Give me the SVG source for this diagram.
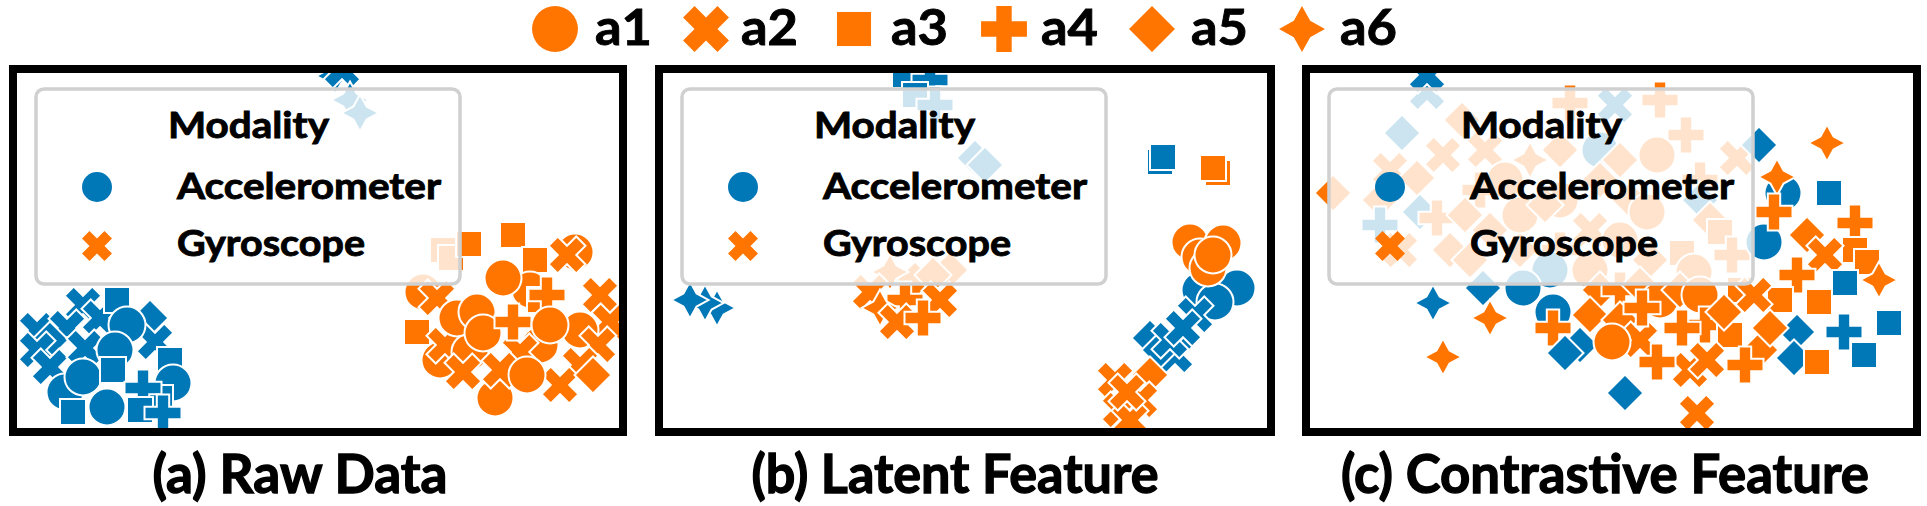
<svg xmlns="http://www.w3.org/2000/svg" xmlns:xlink="http://www.w3.org/1999/xlink" width="1927" height="506" viewBox="0 0 1927 506">
<style>
.b{fill:#0077b6;stroke:#fff;stroke-width:2}
.o{fill:#ff7500;stroke:#fff;stroke-width:2}
.lb{fill:#0077b6}
.lo{fill:#ff7500}
.t{font-family:Lato,"Liberation Sans",sans-serif;font-weight:bold;fill:#000;stroke:#000;stroke-width:0.9}
.tt{stroke-width:1.3}
.leg{fill:#fff;fill-opacity:0.8;stroke:#d0d0d0;stroke-width:3.5}
.frame{fill:none;stroke:#000;stroke-width:8}
</style>
<defs>
<circle id="mo" r="18.5"/>
<path id="mx" d="M-9.25,-18.5L0,-9.25L9.25,-18.5L18.5,-9.25L9.25,0L18.5,9.25L9.25,18.5L0,9.25L-9.25,18.5L-18.5,9.25L-9.25,0L-18.5,-9.25Z"/>
<rect id="ms" x="-13" y="-13" width="26" height="26"/>
<path id="mp" d="M-6.2,-18.5H6.2V-6.2H18.5V6.2H6.2V18.5H-6.2V6.2H-18.5V-6.2H-6.2Z"/>
<path id="md" d="M0,-18.5L18.5,0L0,18.5L-18.5,0Z"/>
<path id="mt" d="M0,-18.5L6.6,-6.6L18.5,0L6.6,6.6L0,18.5L-6.6,6.6L-18.5,0L-6.6,-6.6Z"/>
<clipPath id="ca"><rect x="17" y="73" width="602" height="355"/></clipPath>
<clipPath id="cb"><rect x="663" y="73" width="604" height="355"/></clipPath>
<clipPath id="cc"><rect x="1310" y="73" width="603" height="355"/></clipPath>
</defs>
<rect width="1927" height="506" fill="#fff"/>

<g id="top-legend">
<use href="#mo" transform="translate(555,29) scale(1.24)" class="lo"/>
<text class="t" x="595" y="45" font-size="49" textLength="57" lengthAdjust="spacingAndGlyphs">a1</text>
<use href="#mx" transform="translate(706,29) scale(1.24)" class="lo"/>
<text class="t" x="741" y="45" font-size="49" textLength="57" lengthAdjust="spacingAndGlyphs">a2</text>
<use href="#ms" transform="translate(854,29) scale(1.31)" class="lo"/>
<text class="t" x="891" y="45" font-size="49" textLength="57" lengthAdjust="spacingAndGlyphs">a3</text>
<use href="#mp" transform="translate(1004,29) scale(1.24)" class="lo"/>
<text class="t" x="1041" y="45" font-size="49" textLength="57" lengthAdjust="spacingAndGlyphs">a4</text>
<use href="#md" transform="translate(1152,29) scale(1.24)" class="lo"/>
<text class="t" x="1191" y="45" font-size="49" textLength="57" lengthAdjust="spacingAndGlyphs">a5</text>
<use href="#mt" transform="translate(1302,29) scale(1.24)" class="lo"/>
<text class="t" x="1340" y="45" font-size="49" textLength="57" lengthAdjust="spacingAndGlyphs">a6</text>
</g>

<g id="panel-a">
<g clip-path="url(#ca)">
<use href="#mt" x="335" y="76" class="b"/>
<use href="#mx" x="342" y="70" class="b"/>
<use href="#mt" x="350" y="100" class="b"/>
<use href="#mt" x="360" y="113" class="b"/>
<use href="#mx" x="37" y="330" class="b"/>
<use href="#mx" x="83" y="305" class="b"/>
<use href="#mx" x="100" y="318" class="b"/>
<use href="#ms" x="117" y="300" class="b"/>
<use href="#md" x="150" y="318" class="b"/>
<use href="#mx" x="67" y="328" class="b"/>
<use href="#md" x="50" y="340" class="b"/>
<use href="#mx" x="37" y="350" class="b"/>
<use href="#mx" x="50" y="367" class="b"/>
<use href="#mx" x="85" y="348" class="b"/>
<use href="#mx" x="155" y="342" class="b"/>
<use href="#mo" x="127" y="325" class="b"/>
<use href="#mo" x="115" y="350" class="b"/>
<use href="#mo" x="65" y="392" class="b"/>
<use href="#mo" x="83" y="377" class="b"/>
<use href="#ms" x="170" y="360" class="b"/>
<use href="#mo" x="173" y="383" class="b"/>
<use href="#ms" x="113" y="370" class="b"/>
<use href="#ms" x="160" y="398" class="b"/>
<use href="#mp" x="143" y="388" class="b"/>
<use href="#ms" x="140" y="410" class="b"/>
<use href="#ms" x="73" y="412" class="b"/>
<use href="#mo" x="107" y="407" class="b"/>
<use href="#mp" x="163" y="413" class="b"/>

<use href="#ms" x="443" y="250" class="o"/>
<use href="#ms" x="451" y="258" class="o"/>
<use href="#ms" x="469" y="244" class="o"/>
<use href="#ms" x="513" y="235" class="o"/>
<use href="#mo" x="575" y="252" class="o"/>
<use href="#ms" x="535" y="260" class="o"/>
<use href="#mo" x="423" y="292" class="o"/>
<use href="#ms" x="417" y="332" class="o"/>
<use href="#mo" x="530" y="290" class="o"/>
<use href="#mx" x="567" y="255" class="o"/>
<use href="#mx" x="600" y="295" class="o"/>
<use href="#mx" x="610" y="322" class="o"/>
<use href="#mo" x="580" y="330" class="o"/>
<use href="#mo" x="503" y="278" class="o"/>
<use href="#ms" x="540" y="300" class="o"/>
<use href="#mx" x="437" y="298" class="o"/>
<use href="#mp" x="547" y="295" class="o"/>
<use href="#mo" x="440" y="360" class="o"/>
<use href="#mx" x="445" y="345" class="o"/>
<use href="#mo" x="540" y="345" class="o"/>
<use href="#mo" x="470" y="352" class="o"/>
<use href="#mx" x="520" y="352" class="o"/>
<use href="#mx" x="598" y="345" class="o"/>
<use href="#mx" x="580" y="365" class="o"/>
<use href="#mx" x="560" y="385" class="o"/>
<use href="#md" x="593" y="375" class="o"/>
<use href="#mo" x="495" y="398" class="o"/>
<use href="#mx" x="463" y="372" class="o"/>
<use href="#mx" x="500" y="370" class="o"/>
<use href="#mo" x="527" y="375" class="o"/>
<use href="#mo" x="457" y="318" class="o"/>
<use href="#mo" x="477" y="312" class="o"/>
<use href="#mo" x="483" y="333" class="o"/>
<use href="#mp" x="513" y="322" class="o"/>
<use href="#mo" x="550" y="325" class="o"/>
</g>
<rect class="leg" x="36" y="89" width="424" height="195" rx="8"/>
<text class="t" x="168" y="138" font-size="37" textLength="161" lengthAdjust="spacingAndGlyphs">Modality</text>
<use href="#mo" transform="translate(97,187) scale(0.81)" class="lb"/>
<text class="t" x="177" y="199" font-size="37" textLength="264" lengthAdjust="spacingAndGlyphs">Accelerometer</text>
<use href="#mx" transform="translate(97,246) scale(0.81)" class="lo"/>
<text class="t" x="177" y="256" font-size="37" textLength="188" lengthAdjust="spacingAndGlyphs">Gyroscope</text>
<rect class="frame" x="13" y="69" width="610" height="363"/>
<text class="t tt" x="300" y="493" font-size="53" text-anchor="middle" textLength="295" lengthAdjust="spacingAndGlyphs">(a) Raw Data</text>
</g>

<g id="panel-b">
<g clip-path="url(#cb)">
<use href="#ms" x="905" y="75" class="b"/>
<use href="#mp" x="930" y="80" class="b"/>
<use href="#ms" x="915" y="95" class="b"/>
<use href="#mp" x="935" y="105" class="b"/>
<use href="#md" x="975" y="158" class="b"/>
<use href="#md" x="985" y="165" class="b"/>
<use href="#mt" x="717" y="308" class="b"/>
<use href="#mt" x="705" y="303" class="b"/>
<use href="#mt" x="690" y="300" class="b"/>
<use href="#md" x="915" y="280" class="o"/>
<use href="#md" x="950" y="270" class="o"/>
<use href="#mt" x="890" y="272" class="o"/>
<use href="#md" x="933" y="275" class="o"/>
<use href="#mx" x="870" y="292" class="o"/>
<use href="#mx" x="940" y="300" class="o"/>
<use href="#mp" x="905" y="300" class="o"/>
<use href="#mt" x="880" y="308" class="o"/>
<use href="#mx" x="897" y="322" class="o"/>
<use href="#mp" x="923" y="318" class="o"/>
<use href="#ms" x="1160" y="162" class="b"/>
<use href="#ms" x="1163" y="157" class="b"/>
<use href="#ms" x="1218" y="173" class="o"/>
<use href="#ms" x="1213" y="168" class="o"/>
<use href="#mo" x="1200" y="290" class="b"/>
<use href="#mo" x="1237" y="288" class="b"/>
<use href="#mo" x="1215" y="302" class="b"/>
<use href="#md" x="1150" y="338" class="b"/>
<use href="#mx" x="1175" y="355" class="b"/>
<use href="#md" x="1160" y="350" class="b"/>
<use href="#mx" x="1195" y="315" class="b"/>
<use href="#mx" x="1170" y="340" class="b"/>
<use href="#mx" x="1183" y="328" class="b"/>
<use href="#mo" x="1190" y="242" class="o"/>
<use href="#mo" x="1223" y="243" class="o"/>
<use href="#mo" x="1200" y="257" class="o"/>
<use href="#mo" x="1208" y="268" class="o"/>
<use href="#mo" x="1213" y="255" class="o"/>
<use href="#md" x="1150" y="375" class="o"/>
<use href="#mx" x="1115" y="380" class="o"/>
<use href="#mx" x="1140" y="400" class="o"/>
<use href="#mx" x="1120" y="410" class="o"/>
<use href="#mx" x="1130" y="420" class="o"/>
<use href="#mx" x="1127" y="392" class="o"/>
</g>
<rect class="leg" x="682" y="89" width="424" height="195" rx="8"/>
<text class="t" x="814" y="138" font-size="37" textLength="161" lengthAdjust="spacingAndGlyphs">Modality</text>
<use href="#mo" transform="translate(743,187) scale(0.81)" class="lb"/>
<text class="t" x="823" y="199" font-size="37" textLength="264" lengthAdjust="spacingAndGlyphs">Accelerometer</text>
<use href="#mx" transform="translate(743,246) scale(0.81)" class="lo"/>
<text class="t" x="823" y="256" font-size="37" textLength="188" lengthAdjust="spacingAndGlyphs">Gyroscope</text>
<rect class="frame" x="659" y="69" width="612" height="363"/>
<text class="t tt" x="955" y="493" font-size="53" text-anchor="middle" textLength="407" lengthAdjust="spacingAndGlyphs">(b) Latent Feature</text>
</g>

<g id="panel-c">
<g clip-path="url(#cc)">
<use href="#mx" x="1427" y="92" class="b"/>
<use href="#mx" x="1427" y="75" class="b"/>
<use href="#md" x="1402" y="133" class="b"/>
<use href="#mx" x="1390" y="170" class="o"/>
<use href="#md" x="1380" y="200" class="o"/>
<use href="#md" x="1333" y="193" class="o"/>
<use href="#mp" x="1380" y="225" class="b"/>
<use href="#mx" x="1443" y="155" class="o"/>
<use href="#md" x="1417" y="178" class="o"/>
<use href="#md" x="1420" y="212" class="b"/>
<use href="#mp" x="1437" y="218" class="o"/>
<use href="#mx" x="1400" y="250" class="o"/>
<use href="#md" x="1450" y="250" class="o"/>
<use href="#md" x="1470" y="260" class="o"/>
<use href="#md" x="1462" y="120" class="o"/>
<use href="#mx" x="1485" y="150" class="o"/>
<use href="#mp" x="1480" y="190" class="o"/>
<use href="#mo" x="1505" y="180" class="o"/>
<use href="#md" x="1465" y="215" class="o"/>
<use href="#md" x="1490" y="230" class="o"/>
<use href="#md" x="1520" y="250" class="o"/>
<use href="#mo" x="1520" y="215" class="o"/>
<use href="#mt" x="1530" y="160" class="o"/>
<use href="#mo" x="1560" y="200" class="o"/>
<use href="#md" x="1545" y="205" class="o"/>
<use href="#md" x="1560" y="150" class="o"/>
<use href="#mp" x="1570" y="103" class="o"/>
<use href="#mx" x="1615" y="105" class="b"/>
<use href="#mo" x="1600" y="150" class="b"/>
<use href="#md" x="1620" y="160" class="o"/>
<use href="#md" x="1600" y="180" class="o"/>
<use href="#mp" x="1560" y="250" class="o"/>
<use href="#mx" x="1590" y="230" class="o"/>
<use href="#mo" x="1590" y="270" class="o"/>
<use href="#mo" x="1550" y="270" class="b"/>
<use href="#md" x="1630" y="200" class="o"/>
<use href="#mo" x="1620" y="240" class="o"/>
<use href="#md" x="1650" y="260" class="o"/>
<use href="#mp" x="1660" y="100" class="o"/>
<use href="#mp" x="1686" y="135" class="o"/>
<use href="#mo" x="1657" y="155" class="o"/>
<use href="#mp" x="1700" y="180" class="o"/>
<use href="#mx" x="1737" y="158" class="o"/>
<use href="#md" x="1700" y="200" class="b"/>
<use href="#md" x="1710" y="220" class="o"/>
<use href="#ms" x="1720" y="232" class="o"/>
<use href="#mo" x="1647" y="212" class="o"/>
<use href="#ms" x="1682" y="253" class="o"/>
<use href="#mp" x="1732" y="255" class="o"/>
<use href="#mo" x="1694" y="272" class="o"/>
<use href="#md" x="1759" y="145" class="b"/>
<use href="#mo" x="1783" y="193" class="b"/>
<use href="#mt" x="1777" y="177" class="o"/>
<use href="#mt" x="1827" y="143" class="o"/>
<use href="#ms" x="1829" y="193" class="b"/>
<use href="#mo" x="1764" y="242" class="b"/>
<use href="#mp" x="1774" y="212" class="o"/>
<use href="#md" x="1807" y="235" class="o"/>
<use href="#mp" x="1855" y="223" class="o"/>
<use href="#ms" x="1855" y="250" class="o"/>
<use href="#ms" x="1867" y="262" class="o"/>
<use href="#mx" x="1825" y="255" class="o"/>
<use href="#ms" x="1845" y="283" class="b"/>
<use href="#mt" x="1879" y="280" class="o"/>
<use href="#mp" x="1797" y="275" class="o"/>
<use href="#ms" x="1819" y="302" class="o"/>
<use href="#md" x="1483" y="288" class="b"/>
<use href="#mt" x="1433" y="303" class="b"/>
<use href="#mt" x="1490" y="318" class="o"/>
<use href="#mt" x="1443" y="357" class="o"/>
<use href="#mo" x="1523" y="288" class="b"/>
<use href="#md" x="1600" y="290" class="o"/>
<use href="#mp" x="1620" y="290" class="o"/>
<use href="#md" x="1640" y="285" class="o"/>
<use href="#mo" x="1660" y="300" class="o"/>
<use href="#md" x="1680" y="290" class="o"/>
<use href="#ms" x="1740" y="290" class="o"/>
<use href="#ms" x="1780" y="300" class="o"/>
<use href="#mo" x="1553" y="312" class="b"/>
<use href="#md" x="1580" y="345" class="b"/>
<use href="#mp" x="1553" y="328" class="o"/>
<use href="#md" x="1565" y="353" class="b"/>
<use href="#md" x="1590" y="315" class="o"/>
<use href="#md" x="1620" y="320" class="o"/>
<use href="#mx" x="1640" y="340" class="o"/>
<use href="#mo" x="1612" y="342" class="o"/>
<use href="#mp" x="1642" y="308" class="o"/>
<use href="#mo" x="1700" y="295" class="o"/>
<use href="#mp" x="1705" y="325" class="o"/>
<use href="#ms" x="1730" y="335" class="o"/>
<use href="#mx" x="1754" y="295" class="o"/>
<use href="#md" x="1724" y="312" class="o"/>
<use href="#mp" x="1682" y="328" class="o"/>
<use href="#md" x="1797" y="332" class="b"/>
<use href="#md" x="1794" y="358" class="b"/>
<use href="#md" x="1760" y="350" class="o"/>
<use href="#md" x="1770" y="328" class="o"/>
<use href="#mx" x="1690" y="370" class="o"/>
<use href="#mp" x="1657" y="362" class="o"/>
<use href="#mx" x="1707" y="360" class="o"/>
<use href="#mp" x="1745" y="365" class="o"/>
<use href="#ms" x="1817" y="362" class="o"/>
<use href="#mp" x="1844" y="332" class="b"/>
<use href="#ms" x="1864" y="355" class="b"/>
<use href="#ms" x="1889" y="323" class="b"/>
<use href="#md" x="1625" y="393" class="b"/>
<use href="#mx" x="1697" y="413" class="o"/>
</g>
<rect class="leg" x="1329" y="89" width="424" height="195" rx="8"/>
<text class="t" x="1461" y="138" font-size="37" textLength="161" lengthAdjust="spacingAndGlyphs">Modality</text>
<use href="#mo" transform="translate(1390,187) scale(0.81)" class="lb"/>
<text class="t" x="1470" y="199" font-size="37" textLength="264" lengthAdjust="spacingAndGlyphs">Accelerometer</text>
<use href="#mx" transform="translate(1390,246) scale(0.81)" class="lo"/>
<text class="t" x="1470" y="256" font-size="37" textLength="188" lengthAdjust="spacingAndGlyphs">Gyroscope</text>
<rect class="frame" x="1306" y="69" width="611" height="363"/>
<text class="t tt" x="1605" y="493" font-size="53" text-anchor="middle" textLength="528" lengthAdjust="spacingAndGlyphs">(c) Contrastive Feature</text>
</g>
</svg>
